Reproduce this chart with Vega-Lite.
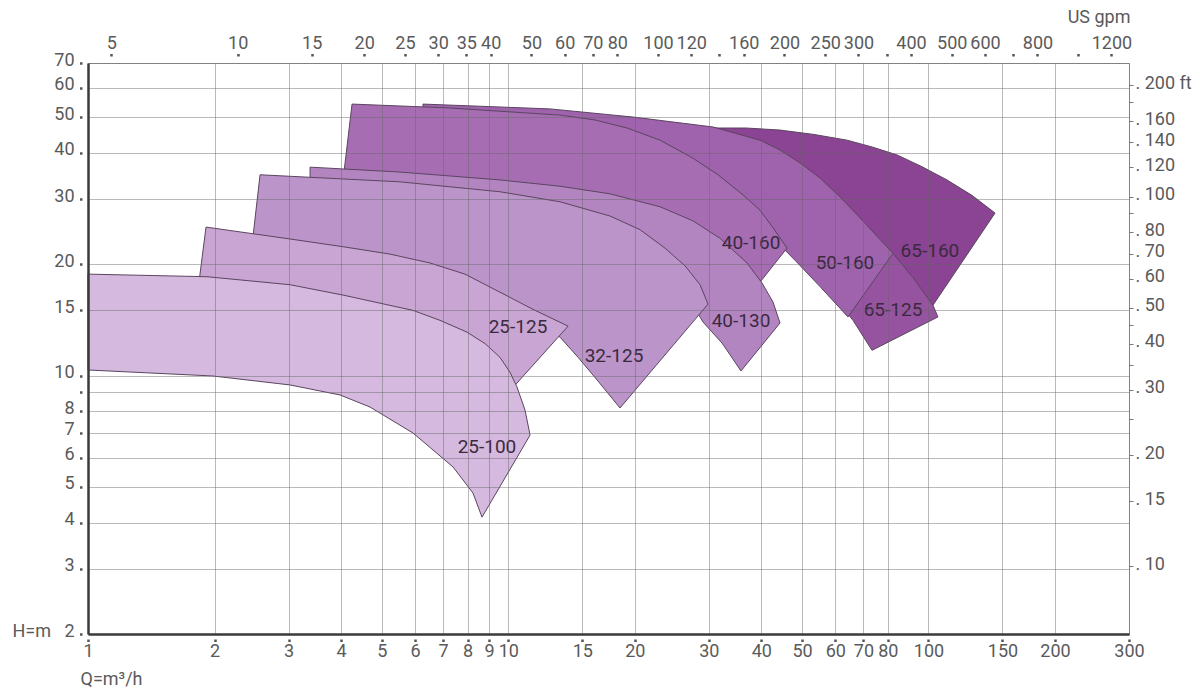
{
  "$schema": "https://vega.github.io/schema/vega-lite/v6.json",
  "width": 1041,
  "height": 571,
  "autosize": {"type": "none"},
  "padding": {"left": 88, "top": 63, "right": 71, "bottom": 54},
  "background": "white",
  "config": {
    "font": "Roboto, sans-serif",
    "view": {"stroke": "#9a9a9a", "strokeWidth": 1},
    "axis": {"labelFont": "Roboto, sans-serif", "titleFont": "Roboto, sans-serif"},
    "text": {"font": "Roboto, sans-serif"}
  },
  "datasets": {
    "shapes": [
      {"pump": "65-160", "i": 0, "Q": 25.63, "H": 45.6},
      {"pump": "65-160", "i": 1, "Q": 30.71, "H": 46.7},
      {"pump": "65-160", "i": 2, "Q": 36.79, "H": 46.7},
      {"pump": "65-160", "i": 3, "Q": 44.33, "H": 46.1},
      {"pump": "65-160", "i": 4, "Q": 53.4, "H": 44.86},
      {"pump": "65-160", "i": 5, "Q": 63.98, "H": 43.3},
      {"pump": "65-160", "i": 6, "Q": 73.39, "H": 41.5},
      {"pump": "65-160", "i": 7, "Q": 84.14, "H": 39.5},
      {"pump": "65-160", "i": 8, "Q": 96.5, "H": 36.7},
      {"pump": "65-160", "i": 9, "Q": 110.7, "H": 33.8},
      {"pump": "65-160", "i": 10, "Q": 126.9, "H": 30.7},
      {"pump": "65-160", "i": 11, "Q": 144.0, "H": 27.5},
      {"pump": "65-160", "i": 12, "Q": 102.5, "H": 15.5},
      {"pump": "65-160", "i": 13, "Q": 95.46, "H": 15.5},
      {"pump": "65-160", "i": 14, "Q": 82.33, "H": 18.7},
      {"pump": "65-160", "i": 15, "Q": 68.71, "H": 22.5},
      {"pump": "65-160", "i": 16, "Q": 49.45, "H": 29.8},
      {"pump": "65-160", "i": 17, "Q": 28.6, "H": 38.3},
      {"pump": "65-160", "i": 18, "Q": 25.63, "H": 40.7},

      {"pump": "65-125", "i": 0, "Q": 44.33, "H": 30.8},
      {"pump": "65-125", "i": 1, "Q": 58.29, "H": 28.0},
      {"pump": "65-125", "i": 2, "Q": 70.63, "H": 23.5},
      {"pump": "65-125", "i": 3, "Q": 82.33, "H": 21.4},
      {"pump": "65-125", "i": 4, "Q": 91.86, "H": 18.4},
      {"pump": "65-125", "i": 5, "Q": 102.5, "H": 15.5},
      {"pump": "65-125", "i": 6, "Q": 105.3, "H": 14.4},
      {"pump": "65-125", "i": 7, "Q": 73.39, "H": 11.7},
      {"pump": "65-125", "i": 8, "Q": 66.12, "H": 14.1},
      {"pump": "65-125", "i": 9, "Q": 59.91, "H": 16.2},
      {"pump": "65-125", "i": 10, "Q": 52.82, "H": 19.1},
      {"pump": "65-125", "i": 11, "Q": 46.81, "H": 22.5},
      {"pump": "65-125", "i": 12, "Q": 44.33, "H": 26.3},

      {"pump": "50-160", "i": 0, "Q": 6.268, "H": 54.2},
      {"pump": "50-160", "i": 1, "Q": 12.57, "H": 52.6},
      {"pump": "50-160", "i": 2, "Q": 19.81, "H": 50.0},
      {"pump": "50-160", "i": 3, "Q": 30.71, "H": 47.0},
      {"pump": "50-160", "i": 4, "Q": 39.72, "H": 43.3},
      {"pump": "50-160", "i": 5, "Q": 44.33, "H": 40.7},
      {"pump": "50-160", "i": 6, "Q": 49.45, "H": 37.6},
      {"pump": "50-160", "i": 7, "Q": 55.19, "H": 34.2},
      {"pump": "50-160", "i": 8, "Q": 61.58, "H": 30.4},
      {"pump": "50-160", "i": 9, "Q": 68.71, "H": 26.7},
      {"pump": "50-160", "i": 10, "Q": 75.42, "H": 23.8},
      {"pump": "50-160", "i": 11, "Q": 82.33, "H": 21.4},
      {"pump": "50-160", "i": 12, "Q": 64.34, "H": 14.4},
      {"pump": "50-160", "i": 13, "Q": 55.19, "H": 17.4},
      {"pump": "50-160", "i": 14, "Q": 48.12, "H": 20.5},
      {"pump": "50-160", "i": 15, "Q": 41.96, "H": 24.0},
      {"pump": "50-160", "i": 16, "Q": 35.61, "H": 28.9},
      {"pump": "50-160", "i": 17, "Q": 27.07, "H": 34.9},
      {"pump": "50-160", "i": 18, "Q": 16.53, "H": 40.7},
      {"pump": "50-160", "i": 19, "Q": 7.268, "H": 46.1},
      {"pump": "50-160", "i": 20, "Q": 6.268, "H": 46.1},

      {"pump": "40-160", "i": 0, "Q": 4.249, "H": 54.2},
      {"pump": "40-160", "i": 1, "Q": 7.268, "H": 52.9},
      {"pump": "40-160", "i": 2, "Q": 13.28, "H": 50.6},
      {"pump": "40-160", "i": 3, "Q": 16.09, "H": 49.1},
      {"pump": "40-160", "i": 4, "Q": 19.17, "H": 46.7},
      {"pump": "40-160", "i": 5, "Q": 22.97, "H": 43.3},
      {"pump": "40-160", "i": 6, "Q": 27.51, "H": 38.7},
      {"pump": "40-160", "i": 7, "Q": 31.56, "H": 34.9},
      {"pump": "40-160", "i": 8, "Q": 36.19, "H": 30.8},
      {"pump": "40-160", "i": 9, "Q": 39.72, "H": 28.0},
      {"pump": "40-160", "i": 10, "Q": 42.66, "H": 25.1},
      {"pump": "40-160", "i": 11, "Q": 46.06, "H": 22.1},
      {"pump": "40-160", "i": 12, "Q": 39.29, "H": 17.6},
      {"pump": "40-160", "i": 13, "Q": 37.19, "H": 16.2},
      {"pump": "40-160", "i": 14, "Q": 28.6, "H": 20.3},
      {"pump": "40-160", "i": 15, "Q": 16.53, "H": 26.7},
      {"pump": "40-160", "i": 16, "Q": 7.268, "H": 31.7},
      {"pump": "40-160", "i": 17, "Q": 4.045, "H": 33.8},

      {"pump": "40-130", "i": 0, "Q": 3.376, "H": 36.6},
      {"pump": "40-130", "i": 1, "Q": 5.526, "H": 35.5},
      {"pump": "40-130", "i": 2, "Q": 9.558, "H": 33.8},
      {"pump": "40-130", "i": 3, "Q": 13.28, "H": 32.5},
      {"pump": "40-130", "i": 4, "Q": 17.46, "H": 31.0},
      {"pump": "40-130", "i": 5, "Q": 22.97, "H": 28.6},
      {"pump": "40-130", "i": 6, "Q": 27.51, "H": 26.2},
      {"pump": "40-130", "i": 7, "Q": 31.91, "H": 23.5},
      {"pump": "40-130", "i": 8, "Q": 37.0, "H": 20.15},
      {"pump": "40-130", "i": 9, "Q": 40.16, "H": 17.8},
      {"pump": "40-130", "i": 10, "Q": 42.66, "H": 15.8},
      {"pump": "40-130", "i": 11, "Q": 44.33, "H": 13.87},
      {"pump": "40-130", "i": 12, "Q": 35.8, "H": 10.29},
      {"pump": "40-130", "i": 13, "Q": 32.26, "H": 12.24},
      {"pump": "40-130", "i": 14, "Q": 29.06, "H": 13.96},
      {"pump": "40-130", "i": 15, "Q": 27.07, "H": 16.0},
      {"pump": "40-130", "i": 16, "Q": 20.58, "H": 20.3},
      {"pump": "40-130", "i": 17, "Q": 13.28, "H": 25.5},
      {"pump": "40-130", "i": 18, "Q": 7.268, "H": 29.8},
      {"pump": "40-130", "i": 19, "Q": 3.376, "H": 31.7},

      {"pump": "32-125", "i": 0, "Q": 2.567, "H": 34.9},
      {"pump": "32-125", "i": 1, "Q": 5.526, "H": 33.4},
      {"pump": "32-125", "i": 2, "Q": 9.558, "H": 31.4},
      {"pump": "32-125", "i": 3, "Q": 13.28, "H": 29.5},
      {"pump": "32-125", "i": 4, "Q": 17.46, "H": 27.0},
      {"pump": "32-125", "i": 5, "Q": 20.58, "H": 24.8},
      {"pump": "32-125", "i": 6, "Q": 23.61, "H": 22.1},
      {"pump": "32-125", "i": 7, "Q": 26.34, "H": 19.8},
      {"pump": "32-125", "i": 8, "Q": 28.6, "H": 17.6},
      {"pump": "32-125", "i": 9, "Q": 29.88, "H": 15.6},
      {"pump": "32-125", "i": 10, "Q": 18.45, "H": 8.17},
      {"pump": "32-125", "i": 11, "Q": 16.35, "H": 9.66},
      {"pump": "32-125", "i": 12, "Q": 14.66, "H": 11.2},
      {"pump": "32-125", "i": 13, "Q": 13.28, "H": 12.7},
      {"pump": "32-125", "i": 14, "Q": 11.9, "H": 13.96},
      {"pump": "32-125", "i": 15, "Q": 8.567, "H": 16.5},
      {"pump": "32-125", "i": 16, "Q": 5.526, "H": 19.3},
      {"pump": "32-125", "i": 17, "Q": 3.195, "H": 21.9},
      {"pump": "32-125", "i": 18, "Q": 2.456, "H": 22.5},

      {"pump": "25-125", "i": 0, "Q": 1.909, "H": 25.2},
      {"pump": "25-125", "i": 1, "Q": 3.025, "H": 23.4},
      {"pump": "25-125", "i": 2, "Q": 4.045, "H": 22.3},
      {"pump": "25-125", "i": 3, "Q": 5.231, "H": 21.3},
      {"pump": "25-125", "i": 4, "Q": 6.514, "H": 20.15},
      {"pump": "25-125", "i": 5, "Q": 7.89, "H": 18.8},
      {"pump": "25-125", "i": 6, "Q": 9.558, "H": 16.8},
      {"pump": "25-125", "i": 7, "Q": 11.45, "H": 15.1},
      {"pump": "25-125", "i": 8, "Q": 13.88, "H": 13.6},
      {"pump": "25-125", "i": 9, "Q": 9.99, "H": 8.97},
      {"pump": "25-125", "i": 10, "Q": 8.11, "H": 10.68},
      {"pump": "25-125", "i": 11, "Q": 5.935, "H": 13.96},
      {"pump": "25-125", "i": 12, "Q": 4.045, "H": 15.8},
      {"pump": "25-125", "i": 13, "Q": 3.025, "H": 16.8},
      {"pump": "25-125", "i": 14, "Q": 1.837, "H": 17.9},

      {"pump": "25-100", "i": 0, "Q": 1.0, "H": 18.8},
      {"pump": "25-100", "i": 1, "Q": 1.92, "H": 18.5},
      {"pump": "25-100", "i": 2, "Q": 3.025, "H": 17.6},
      {"pump": "25-100", "i": 3, "Q": 4.045, "H": 16.5},
      {"pump": "25-100", "i": 4, "Q": 5.935, "H": 15.0},
      {"pump": "25-100", "i": 5, "Q": 6.88, "H": 14.1},
      {"pump": "25-100", "i": 6, "Q": 7.976, "H": 13.1},
      {"pump": "25-100", "i": 7, "Q": 8.805, "H": 12.2},
      {"pump": "25-100", "i": 8, "Q": 9.558, "H": 11.2},
      {"pump": "25-100", "i": 9, "Q": 10.1, "H": 10.2},
      {"pump": "25-100", "i": 10, "Q": 10.49, "H": 9.31},
      {"pump": "25-100", "i": 11, "Q": 10.96, "H": 8.07},
      {"pump": "25-100", "i": 12, "Q": 11.27, "H": 6.9},
      {"pump": "25-100", "i": 13, "Q": 8.66, "H": 4.14},
      {"pump": "25-100", "i": 14, "Q": 8.244, "H": 4.81},
      {"pump": "25-100", "i": 15, "Q": 7.388, "H": 5.66},
      {"pump": "25-100", "i": 16, "Q": 5.935, "H": 6.99},
      {"pump": "25-100", "i": 17, "Q": 4.688, "H": 8.22},
      {"pump": "25-100", "i": 18, "Q": 3.978, "H": 8.86},
      {"pump": "25-100", "i": 19, "Q": 3.025, "H": 9.43},
      {"pump": "25-100", "i": 20, "Q": 1.983, "H": 9.97},
      {"pump": "25-100", "i": 21, "Q": 1.0, "H": 10.35}
    ],
    "labels": [
      {"pump": "25-100", "Q": 8.9, "H": 6.41},
      {"pump": "25-125", "Q": 10.55, "H": 13.5},
      {"pump": "32-125", "Q": 17.85, "H": 11.3},
      {"pump": "40-130", "Q": 35.8, "H": 14.0},
      {"pump": "40-160", "Q": 37.82, "H": 22.8},
      {"pump": "50-160", "Q": 63.28, "H": 20.15},
      {"pump": "65-160", "Q": 100.8, "H": 21.7},
      {"pump": "65-125", "Q": 82.33, "H": 15.0}
    ],
    "aux": [
      {"gpm": 4.40287, "ft": 6.56168},
      {"gpm": 1320.86, "ft": 229.659}
    ]
  },
  "layer": [
    {
      "encoding": {
        "x": {
          "field": "Q", "type": "quantitative",
          "scale": {"type": "log", "domain": [1, 300], "nice": false},
          "axis": {
            "orient": "bottom",
            "values": [1, 2, 3, 4, 5, 6, 7, 8, 9, 10, 15, 20, 30, 40, 50, 60, 70, 80, 100, 150, 200, 300],
            "format": "d",
            "title": "Q=m³/h",
            "grid": true, "gridColor": "#666666", "gridOpacity": 0.45, "gridWidth": 1,
            "domainColor": "#3a3a3a", "domainWidth": 2.5,
            "tickColor": "#555555", "tickSize": 8, "tickWidth": 2.5, "tickDash": [0, 5, 2.5, 20],
            "labelFontSize": 18, "labelColor": "#5a5a5a", "labelPadding": 0,
            "labelBaseline": "top", "labelFlush": false, "labelOverlap": false,
            "titleFontSize": 18, "titleFontWeight": "normal", "titleColor": "#5a5a5a",
            "titleX": -8, "titleY": 50, "titleAlign": "left", "titleBaseline": "alphabetic", "titleAnchor": null,
            "zindex": 1
          }
        },
        "y": {
          "field": "H", "type": "quantitative",
          "scale": {"type": "log", "domain": [2, 70], "nice": false},
          "axis": {
            "orient": "left",
            "values": [2, 3, 4, 5, 6, 7, 8, 9, 10, 15, 20, 30, 40, 50, 60, 70],
            "labelExpr": "datum.value == 9 ? '' : datum.value == 2 ? 'H=m\u00a0\u00a0\u00a02' : datum.label",
            "title": null,
            "grid": true, "gridColor": "#666666", "gridOpacity": 0.45, "gridWidth": 1,
            "domainColor": "#3a3a3a", "domainWidth": 2.5,
            "tickColor": "#555555", "tickSize": 9, "tickWidth": 2.5, "tickDash": [0, 6, 2.5, 20],
            "labelFontSize": 18, "labelColor": "#5a5a5a", "labelPadding": 5,
            "labelBaseline": "alphabetic", "labelOffset": 2, "labelFlush": false, "labelOverlap": false,
            "zindex": 1
          }
        }
      },
      "layer": [
        {
          "data": {"name": "shapes"},
          "mark": {"type": "line", "interpolate": "linear-closed", "stroke": "#5b4560", "strokeWidth": 1, "strokeJoin": "round"},
          "encoding": {
            "detail": {"field": "pump", "type": "nominal"},
            "order": {"field": "i", "type": "quantitative"},
            "fill": {
              "field": "pump", "type": "nominal", "legend": null,
              "scale": {
                "domain": ["25-100", "25-125", "32-125", "40-130", "40-160", "50-160", "65-125", "65-160"],
                "range": ["#d5b9de", "#c8a5d2", "#bb94c9", "#b385c0", "#a66db3", "#9f62ac", "#9553a0", "#8b4393"]
              }
            }
          }
        },
        {
          "data": {"name": "labels"},
          "mark": {"type": "text", "fontSize": 19, "color": "#3a2a3f", "align": "center", "baseline": "middle"},
          "encoding": {
            "text": {"field": "pump", "type": "nominal"}
          }
        }
      ]
    },
    {
      "data": {"name": "aux"},
      "mark": {"type": "point", "opacity": 0},
      "encoding": {
        "x": {
          "field": "gpm", "type": "quantitative",
          "scale": {"type": "log", "domain": [4.40287, 1320.86], "nice": false},
          "axis": {
            "orient": "top",
            "values": [5, 10, 15, 20, 25, 30, 35, 40, 50, 60, 70, 80, 100, 120, 140, 160, 200, 250, 300, 350, 400, 500, 600, 700, 800, 1000, 1200],
            "format": "d",
            "labelExpr": "indexof([140, 350, 700, 1000], datum.value) >= 0 ? '' : datum.label",
            "grid": false, "domain": false,
            "tickColor": "#555555", "tickSize": 10, "tickWidth": 2.5, "tickDash": [0, 7, 2.5, 20],
            "labelFontSize": 18, "labelColor": "#5a5a5a", "labelPadding": 5,
            "labelBaseline": "alphabetic", "labelFlush": false, "labelOverlap": false,
            "title": "US gpm", "titleFontSize": 18, "titleFontWeight": "normal", "titleColor": "#5a5a5a",
            "titleX": 1042, "titleY": -41, "titleAlign": "right", "titleBaseline": "alphabetic", "titleAnchor": null
          }
        },
        "y": {
          "field": "ft", "type": "quantitative",
          "scale": {"type": "log", "domain": [6.56168, 229.659], "nice": false},
          "axis": {
            "orient": "right",
            "values": [10, 15, 20, 25, 30, 35, 40, 45, 50, 60, 70, 80, 90, 100, 120, 140, 160, 180, 200],
            "labelExpr": "indexof([25, 35, 45, 90, 180], datum.value) >= 0 ? '' : datum.value == 200 ? '. 200 ft' : '. ' + datum.value",
            "grid": false, "domain": false,
            "tickColor": "#777777", "tickSize": 4, "tickWidth": 1,
            "labelFontSize": 18, "labelColor": "#5a5a5a", "labelPadding": 2,
            "labelBaseline": "alphabetic", "labelOffset": 3, "labelAlign": "left", "labelFlush": false, "labelOverlap": false,
            "title": null
          }
        }
      }
    }
  ],
  "resolve": {"scale": {"x": "independent", "y": "independent"}}
}
